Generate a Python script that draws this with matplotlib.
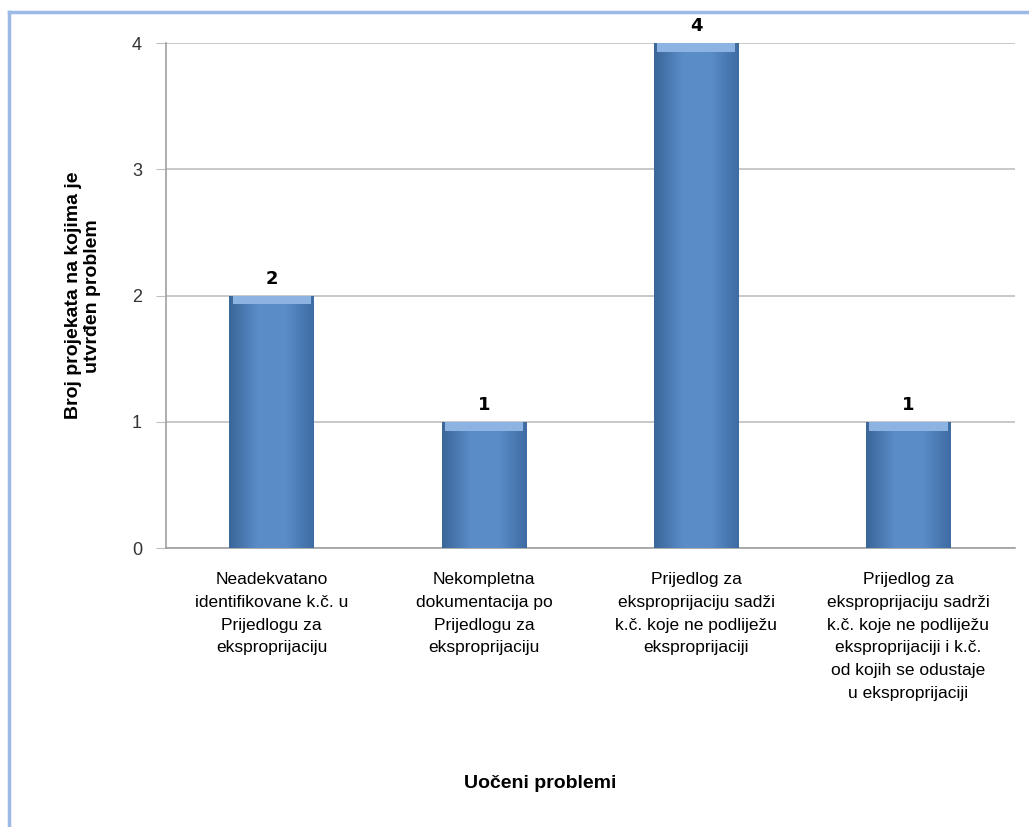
import numpy as np
import matplotlib.pyplot as plt
from matplotlib.patches import Rectangle
from matplotlib.colors import LinearSegmentedColormap
from matplotlib import font_manager

# Podaci
kategorije = [
    "Neadekvatano\nidentifikovane k.č. u\nPrijedlogu za\neksproprijaciju",
    "Nekompletna\ndokumentacija po\nPrijedlogu za\neksproprijaciju",
    "Prijedlog za\neksproprijaciju sadži\nk.č. koje ne podliježu\neksproprijaciji",
    "Prijedlog za\neksproprijaciju sadrži\nk.č. koje ne podliježu\neksproprijaciji i k.č.\nod kojih se odustaje\nu eksproprijaciji",
]
broj_projekata = [2, 1, 4, 1]
y_ticks = [0, 1, 2, 3, 4]

# uski font ako postoji
imena = {f.name for f in font_manager.fontManager.ttflist}
font = 'Liberation Sans Narrow' if 'Liberation Sans Narrow' in imena else 'Liberation Sans'
plt.rcParams['font.family'] = [font, 'DejaVu Sans']

fig = plt.figure(figsize=(10.29, 8.27), dpi=100)
ax = fig.add_axes([0.161, 0.337, 0.825, 0.611])

x = np.arange(len(kategorije))
sirina = 0.4
bars = ax.bar(x, broj_projekata, width=sirina, color='#4F81BD', zorder=2)

# sjencanje stupaca (svjetlija sredina, tamniji rubovi)
cmap = LinearSegmentedColormap.from_list('bevel', ['#3A6699', '#5A8CC8', '#5B8DC9', '#3E6CA3'])
grad = np.linspace(0, 1, 100).reshape(1, -1)
for b in bars:
    x0, w, h = b.get_x(), b.get_width(), b.get_height()
    im = ax.imshow(grad, extent=[x0, x0 + w, 0, h], aspect='auto', cmap=cmap, zorder=3)
    im.set_clip_path(b)
    # svjetliji gornji rub
    ax.add_patch(Rectangle((x0 + w * 0.04, h - 0.07), w * 0.92, 0.07, color='#8DB3E2', zorder=4, lw=0))
    ax.text(x0 + w / 2, h + 0.06, str(int(h)), ha='center', va='bottom',
            fontsize=13, fontweight='bold', family='DejaVu Sans')

ax.set_xlim(-0.5, len(kategorije) - 0.5)
ax.set_ylim(0, 4)
ax.set_yticks(y_ticks)
ax.set_yticklabels([str(t) for t in y_ticks], fontsize=13, color='#333333')
ax.yaxis.grid(True, color='#BFBFBF', lw=1.2, zorder=0)
ax.tick_params(axis='y', length=7, color='#BFBFBF', pad=10)
ax.set_xticks(x)
ax.set_xticklabels(kategorije, fontsize=12.5, linespacing=1.65)
ax.tick_params(axis='x', length=0, pad=17)

for s in ['top', 'right']:
    ax.spines[s].set_visible(False)
for s in ['left', 'bottom']:
    ax.spines[s].set_color('#A0A0A0')
    ax.spines[s].set_linewidth(1.2)

ax.set_ylabel('Broj projekata na kojima je\nutvrđen problem', fontsize=14, fontweight='bold', labelpad=22)
fig.text(0.525, 0.047, 'Uočeni problemi', ha='center', fontsize=14, fontweight='bold')

# okvir grafikona
fig.add_artist(plt.Line2D([0.009, 0.009], [0.0, 0.986], color='#9DB9E6', lw=2.5))
fig.add_artist(plt.Line2D([0.009, 1.0], [0.986, 0.986], color='#9DB9E6', lw=2.5))

plt.savefig('out.png', dpi=100)
